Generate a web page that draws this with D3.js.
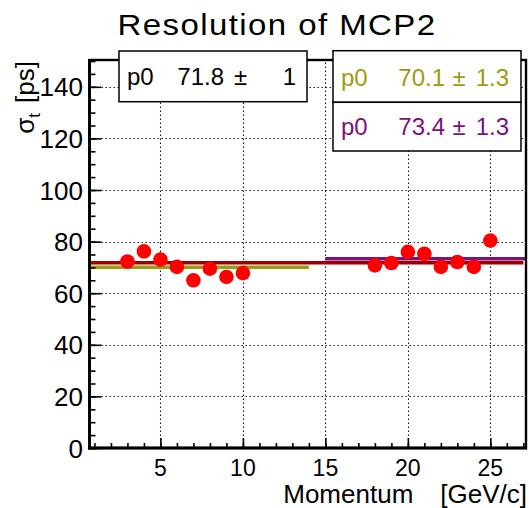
<!DOCTYPE html>
<html>
<head>
<meta charset="utf-8">
<script src="https://cdn.jsdelivr.net/npm/d3@7"></script>
<style>
  html, body { margin: 0; padding: 0; background: #fff; }
  svg { display: block; font-family: "Liberation Sans", Arial, Helvetica, sans-serif; }
</style>
</head>
<body>
<svg id="chart" width="529" height="508"></svg>
<script>
// Measured time resolution of MCP2 versus beam momentum
const momentum = [3, 4, 5, 6, 7, 8, 9, 10, 18, 19, 20, 21, 22, 23, 24, 25];
const sigmaT   = [72.3, 76.2, 73.0, 70.2, 65.0, 69.5, 66.3, 67.8,
                  70.8, 71.7, 76.0, 75.3, 70.2, 72.1, 70.2, 80.4];

// Constant (pol0) fits: overall, low-momentum range, high-momentum range
const fitNames  = ["all", "low", "high"];
const fitP0     = [71.8, 70.1, 73.4];
const fitErr    = ["1", "1.3", "1.3"];
const fitRanges = [[0, 27], [0, 14], [15, 28]];
const fitColors = ["#9c0000", "#9c9c10", "#7c107c"];

const xTicks = [5, 10, 15, 20, 25];
const yTicks = [0, 20, 40, 60, 80, 100, 120, 140];

const svg = d3.select("#chart");
const L = 89.5, R = 525, T = 61, B = 448;

const x = d3.scaleLinear().domain([0.7, 27.1]).range([L, R]);
const y = d3.scaleLinear().domain([0, 150]).range([B, T]);

const plot = svg.append("g");
plot.append("clipPath").attr("id", "clip")
  .append("rect").attr("x", L).attr("y", T).attr("width", R - L).attr("height", B - T);

// dotted grid
const grid = plot.append("g").attr("stroke", "#111").attr("stroke-width", 1.1)
  .attr("stroke-dasharray", "1.4,2.6");
grid.selectAll(".gx").data(xTicks).join("line")
  .attr("x1", d => Math.round(x(d)) + 0.5).attr("x2", d => Math.round(x(d)) + 0.5)
  .attr("y1", B).attr("y2", T);
grid.selectAll(".gy").data(yTicks.filter(d => d > 0)).join("line")
  .attr("y1", d => Math.round(y(d)) + 0.5).attr("y2", d => Math.round(y(d)) + 0.5)
  .attr("x1", L).attr("x2", R);

// fit lines
const fits = plot.append("g").attr("clip-path", "url(#clip)");
const fitOrder = [1, 0, 2];
fitOrder.forEach(i => {
  fits.append("line")
    .attr("x1", x(fitRanges[i][0])).attr("x2", x(fitRanges[i][1]))
    .attr("y1", y(fitP0[i])).attr("y2", y(fitP0[i]))
    .attr("stroke", fitColors[i]).attr("stroke-width", 3.5);
});

// data markers
plot.append("g").selectAll("circle").data(momentum).join("circle")
  .attr("cx", d => x(d))
  .attr("cy", (d, i) => y(sigmaT[i]))
  .attr("r", 7.3)
  .attr("fill", "#ff0000");

// axes
const yAxis = d3.axisRight(y).tickValues(yTicks).tickSize(12).tickFormat("");
const yMinor = d3.axisRight(y).tickValues(d3.range(0, 151, 5)).tickSize(6).tickFormat("");
const xAxis = d3.axisTop(x).tickValues(xTicks).tickSize(10).tickFormat("");
const xMinor = d3.axisTop(x).tickValues(d3.range(1, 28, 1)).tickSize(5).tickFormat("");

[[yMinor, `translate(${L},0)`], [yAxis, `translate(${L},0)`],
 [xMinor, `translate(0,${B})`], [xAxis, `translate(0,${B})`]].forEach(([ax, tr]) => {
  const g = svg.append("g").attr("transform", tr).call(ax);
  g.select(".domain").remove();
  g.selectAll("line").attr("stroke", "#000").attr("stroke-width", 1.6);
});

// frame
svg.append("rect").attr("x", L).attr("y", T - 1).attr("width", R - L + 1).attr("height", B - T + 1)
  .attr("fill", "none").attr("stroke", "#000").attr("stroke-width", 2.4);
svg.append("line").attr("x1", L).attr("x2", L).attr("y1", T - 2).attr("y2", B + 1.5)
  .attr("stroke", "#000").attr("stroke-width", 3);
svg.append("line").attr("x1", L - 1.5).attr("x2", R + 2).attr("y1", B).attr("y2", B)
  .attr("stroke", "#000").attr("stroke-width", 3);

// tick labels
svg.append("g").selectAll("text").data(yTicks).join("text")
  .attr("x", 83).attr("y", d => y(d) + 9.5)
  .attr("text-anchor", "end").attr("font-size", 26).attr("fill", "#000")
  .text(d => d);
svg.append("g").selectAll("text").data(xTicks).join("text")
  .attr("x", d => x(d)).attr("y", 476)
  .attr("text-anchor", "middle").attr("font-size", 23).attr("fill", "#000")
  .text(d => d);

// axis titles
const xt = svg.append("text").attr("x", 527).attr("y", 503)
  .attr("text-anchor", "end").attr("font-size", 26).attr("fill", "#000");
xt.append("tspan").text("Momentum");
xt.append("tspan").attr("dx", 27).text("[GeV/c]");

const yt = svg.append("text").attr("transform", "translate(34,61) rotate(-90)")
  .attr("text-anchor", "end").attr("font-size", 26).attr("fill", "#000");
yt.append("tspan").text("σ");
yt.append("tspan").attr("font-size", 17).attr("dy", 6).text("t");
yt.append("tspan").attr("dy", -6).attr("dx", 10).text("[ps]");

// title (wide Helvetica-style lettering)
svg.append("text").attr("transform", "translate(277,35) scale(1.1,1)")
  .attr("text-anchor", "middle")
  .attr("font-size", 30).attr("letter-spacing", "1.3px").attr("fill", "#000")
  .text("Resolution of MCP2");

// fit parameter boxes
const boxes = [
  { fit: 0, x0: 119, x1: 307, y0: 51, y1: 101.7, base: 85, val: 105, pm: 121.5, err: 11, color: "#000" },
  { fit: 1, x0: 333, x1: 521, y0: 50.7, y1: 102.3, base: 86, val: 112, pm: 126, err: 12, color: fitColors[1] },
  { fit: 2, x0: 333, x1: 521, y0: 102.3, y1: 151, base: 135, val: 112, pm: 126, err: 12, color: fitColors[2] }
];
boxes.forEach(b => {
  const g = svg.append("g");
  g.append("rect").attr("x", b.x0).attr("y", b.y0).attr("width", b.x1 - b.x0).attr("height", b.y1 - b.y0)
    .attr("fill", "#fff").attr("stroke", "#000").attr("stroke-width", 1.5);
  const t = g.append("g").attr("font-size", 24).attr("fill", b.color);
  t.append("text").attr("x", b.x0 + 8).attr("y", b.base).text("p0");
  t.append("text").attr("x", b.x0 + b.val).attr("y", b.base).attr("text-anchor", "end")
    .text(fitP0[b.fit].toFixed(1));
  t.append("text").attr("x", b.x0 + b.pm).attr("y", b.base).attr("text-anchor", "middle").text("±");
  t.append("text").attr("x", b.x1 - b.err).attr("y", b.base).attr("text-anchor", "end")
    .text(fitErr[b.fit]);
});
</script>
</body>
</html>
